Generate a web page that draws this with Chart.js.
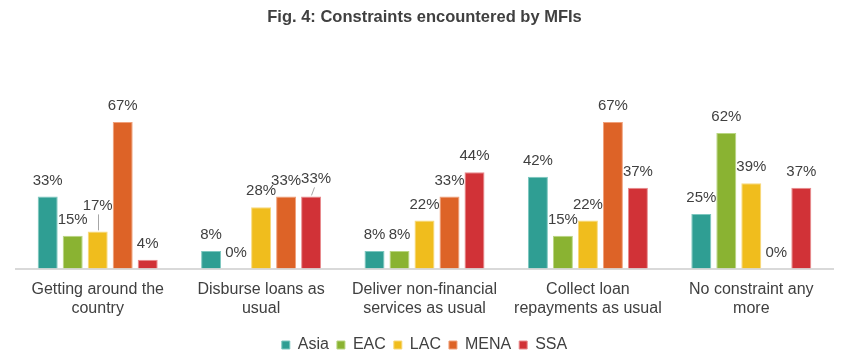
<!DOCTYPE html>
<html lang="en">
<head>
    <meta charset="UTF-8">
    <title>Fig. 4: Constraints encountered by MFIs</title>
    <script src="https://cdn.jsdelivr.net/npm/chart.js"></script>
    <style>
        body {
            margin: 0;
            background-color: #fff;
        }
        #chart {
            display: block;
        }
    </style>
</head>
<body>
    <canvas id="chart" width="850" height="361"></canvas>

    <script>
        // Categorias (eixo x) e séries
        const categories = [
            ['Getting around the', 'country'],
            ['Disburse loans as', 'usual'],
            ['Deliver non-financial', 'services as usual'],
            ['Collect loan', 'repayments as usual'],
            ['No constraint any', 'more']
        ];
        const regions = ['Asia', 'EAC', 'LAC', 'MENA', 'SSA'];

        // Valores em %
        const asia = [33, 8, 8, 42, 25];
        const eac = [15, 0, 8, 15, 62];
        const lac = [17, 28, 22, 22, 39];
        const mena = [67, 33, 33, 67, 0];
        const ssa = [4, 33, 44, 37, 37];

        const fillColors = ['#2f9e93', '#8ab332', '#f0bd1d', '#dd6327', '#d13237'];
        const edgeColors = ['#7cc7bf', '#b9d681', '#f8d97a', '#f0a07a', '#e88a8d'];

        const textColor = '#404040';
        const fontFamily = "'Liberation Sans', Arial, sans-serif";

        // rótulos que precisam sair do lugar (com linha de chamada)
        const labelNudge = {
            '2-0': { dx: 0, dy: -10, leader: true },
            '4-1': { dx: 5, dy: -2, leader: true }
        };

        const barLabels = {
            id: 'barLabels',
            afterDatasetsDraw(chart) {
                const ctx = chart.ctx;
                ctx.save();
                ctx.font = '15px ' + fontFamily;
                ctx.fillStyle = textColor;
                ctx.textAlign = 'center';
                ctx.textBaseline = 'middle';
                chart.data.datasets.forEach((ds, di) => {
                    const meta = chart.getDatasetMeta(di);
                    meta.data.forEach((bar, i) => {
                        const nudge = labelNudge[di + '-' + i] || { dx: 0, dy: 0 };
                        const x = bar.x + nudge.dx;
                        const y = bar.y - 16 + nudge.dy;
                        if (nudge.leader) {
                            ctx.strokeStyle = '#a6a6a6';
                            ctx.lineWidth = 1;
                            ctx.beginPath();
                            ctx.moveTo(Math.round(x - nudge.dx / 2) + 0.5, y + 9);
                            ctx.lineTo(Math.round(bar.x) + 0.5, bar.y - 1);
                            ctx.stroke();
                        }
                        ctx.fillText(ds.data[i] + '%', x, y);
                    });
                });
                ctx.restore();
            }
        };

        const seriesValues = [asia, eac, lac, mena, ssa];

        const datasets = regions.map((name, k) => ({
            label: name,
            data: seriesValues[k],
            backgroundColor: fillColors[k],
            borderColor: edgeColors[k],
            borderWidth: 1,
            categoryPercentage: 0.765,
            barPercentage: 0.8
        }));

        new Chart(document.getElementById('chart'), {
            type: 'bar',
            data: {
                labels: categories,
                datasets: datasets
            },
            options: {
                responsive: false,
                animation: false,
                devicePixelRatio: 1,
                layout: {
                    padding: { left: 16, right: 17, top: 0, bottom: -2 }
                },
                plugins: {
                    title: {
                        display: true,
                        text: 'Fig. 4: Constraints encountered by MFIs',
                        color: textColor,
                        font: { family: fontFamily, size: 16.5, weight: 'bold' },
                        padding: { top: 8, bottom: 22 }
                    },
                    legend: {
                        position: 'bottom',
                        labels: {
                            color: textColor,
                            font: { family: fontFamily, size: 16 },
                            boxWidth: 8,
                            boxHeight: 8,
                            padding: 8
                        }
                    },
                    tooltip: { enabled: false }
                },
                scales: {
                    x: {
                        grid: { display: false, drawTicks: false },
                        border: { display: true, color: '#d9d9d9', width: 2 },
                        ticks: {
                            color: textColor,
                            font: { family: fontFamily, size: 16 },
                            padding: 11,
                            maxRotation: 0,
                            autoSkip: false
                        }
                    },
                    y: {
                        display: false,
                        min: 0,
                        max: 100
                    }
                }
            },
            plugins: [barLabels]
        });
    </script>
</body>
</html>
